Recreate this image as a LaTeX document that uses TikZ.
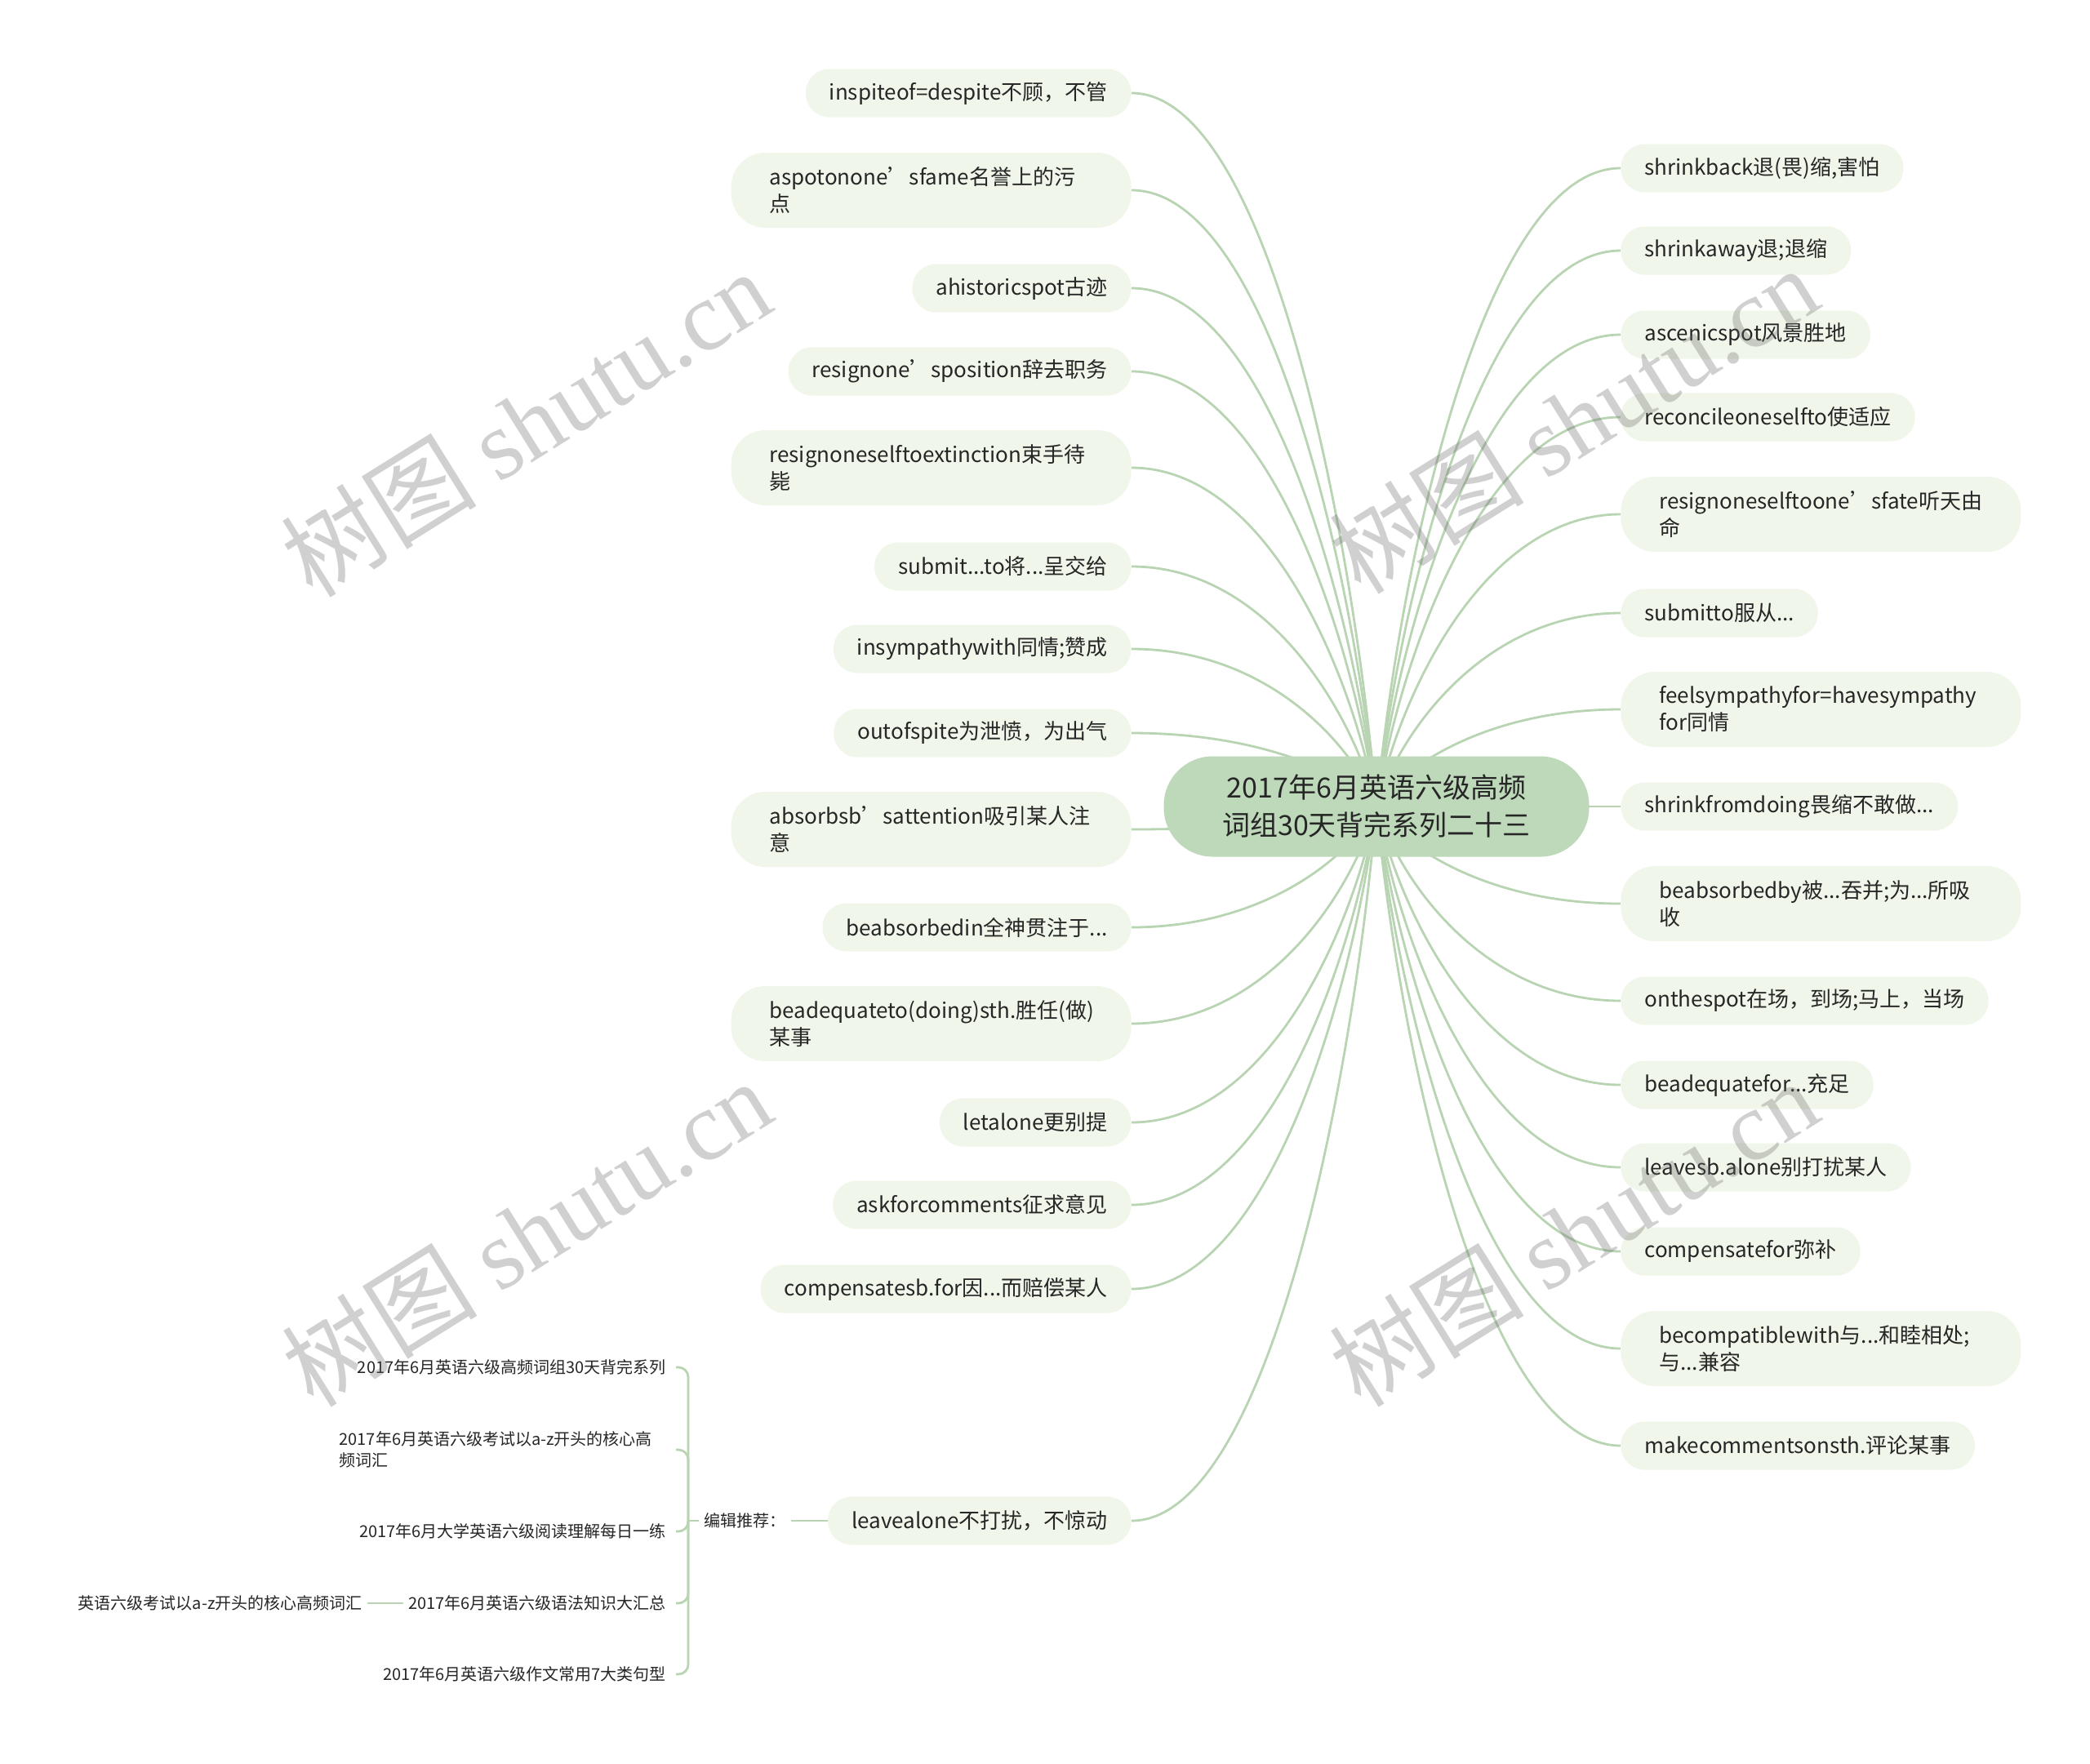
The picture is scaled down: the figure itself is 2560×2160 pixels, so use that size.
\documentclass[tikz,border=0pt]{standalone}
\usepackage{fontspec}
\setmainfont{Noto Sans CJK SC}
\newfontfamily\wmfont{Liberation Serif}
\usepackage{xcolor}
\usepackage{tikz}
\usetikzlibrary{calc}
\definecolor{leafbg}{RGB}{240,246,233}
\definecolor{rootbg}{RGB}{190,216,186}
\definecolor{twiggreen}{RGB}{184,212,178}
\definecolor{inkdark}{RGB}{38,38,38}
\pgfdeclarelayer{canvas}
\pgfdeclarelayer{bg}
\pgfsetlayers{canvas,bg,main}

\begin{document}
\begin{tikzpicture}[x=0.5pt, y=-0.5pt,
 root/.style={fill=rootbg, rounded corners=30pt, minimum width=260.5pt,
          minimum height=61.5pt, align=center, text=inkdark,
          font=\fontsize{17}{23}\selectfont},
 leaf/.style={fill=leafbg, rounded corners=14.5pt, minimum height=29.5pt,
          inner xsep=14.5pt, inner ysep=3pt, text=inkdark,
          font=\fontsize{13}{16.5}\selectfont},
 leafwide/.style={leaf, rounded corners=21pt, minimum height=46pt,
          text width=198pt, inner xsep=23.5pt, align=left},
 recnote/.style={font=\fontsize{10}{13}\selectfont, text=inkdark,
          inner xsep=3pt, anchor=east},
 twig/.style={draw=twiggreen, line width=1.4pt},
 wmark/.style={text=black!60, text opacity=0.3, rotate=32,
          font=\fontsize{60}{60}\selectfont}
]
\useasboundingbox (0,0) rectangle (2560,2160);
\begin{pgfonlayer}{canvas}
\fill[white] (0,0) rectangle (2560,2160);
\end{pgfonlayer}
% Central topic
\node[root] (root) at (1686,988) {2017年6月英语六级高频\\词组30天背完系列二十三};
% Phrases on the left
\node[leaf, anchor=east] (inspite) at (1386,114) {inspiteof=despite不顾，不管};
\node[leafwide, anchor=east] (spotfame) at (1386,233) {aspotonone’sfame名誉上的污\\点};
\node[leaf, anchor=east] (historic) at (1386,353) {ahistoricspot古迹};
\node[leaf, anchor=east] (resignpos) at (1386,455) {resignone’sposition辞去职务};
\node[leafwide, anchor=east] (extinct) at (1386,573) {resignoneselftoextinction束手待\\毙};
\node[leaf, anchor=east] (submitgive) at (1386,694) {submit...to将...呈交给};
\node[leaf, anchor=east] (sympwith) at (1386,795) {insympathywith同情;赞成};
\node[leaf, anchor=east] (spite) at (1386,898) {outofspite为泄愤，为出气};
\node[leafwide, anchor=east] (absorbatt) at (1386,1016) {absorbsb’sattention吸引某人注\\意};
\node[leaf, anchor=east] (absorbin) at (1386,1136) {beabsorbedin全神贯注于...};
\node[leafwide, anchor=east] (adequateto) at (1386,1254) {beadequateto(doing)sth.胜任(做)\\某事};
\node[leaf, anchor=east] (letalone) at (1386,1375) {letalone更别提};
\node[leaf, anchor=east] (askcomm) at (1386,1476) {askforcomments征求意见};
\node[leaf, anchor=east] (compsb) at (1386,1579) {compensatesb.for因...而赔偿某人};
\node[leaf, anchor=east] (leavealone) at (1386,1863) {leavealone不打扰，不惊动};
% Phrases on the right
\node[leaf, anchor=west] (shrinkback) at (1985,206) {shrinkback退(畏)缩,害怕};
\node[leaf, anchor=west] (shrinkaway) at (1985,307) {shrinkaway退;退缩};
\node[leaf, anchor=west] (scenic) at (1985,410) {ascenicspot风景胜地};
\node[leaf, anchor=west] (reconcile) at (1985,511) {reconcileoneselfto使适应};
\node[leafwide, anchor=west] (fate) at (1985,630) {resignoneselftoone’sfate听天由\\命};
\node[leaf, anchor=west] (submitto) at (1985,751) {submitto服从...};
\node[leafwide, anchor=west] (sympfor) at (1985,869) {feelsympathyfor=havesympathy\\for同情};
\node[leaf, anchor=west] (shrinkfrom) at (1985,988) {shrinkfromdoing畏缩不敢做...};
\node[leafwide, anchor=west] (absorbby) at (1985,1107) {beabsorbedby被...吞并;为...所吸\\收};
\node[leaf, anchor=west] (onspot) at (1985,1226) {onthespot在场，到场;马上，当场};
\node[leaf, anchor=west] (adequatefor) at (1985,1329) {beadequatefor...充足};
\node[leaf, anchor=west] (leavesb) at (1985,1430) {leavesb.alone别打扰某人};
\node[leaf, anchor=west] (compfor) at (1985,1533) {compensatefor弥补};
\node[leafwide, anchor=west] (compatible) at (1985,1652) {becompatiblewith与...和睦相处;\\与...兼容};
\node[leaf, anchor=west] (commenton) at (1985,1771) {makecommentsonsth.评论某事};
% Editor's picks hanging off the last phrase
\node[recnote] (recom) at (969,1863) {编辑推荐：};
\coordinate (fork) at (843,1863);
\node[recnote] (series) at (822,1675) {2017年6月英语六级高频词组30天背完系列};
\node[recnote, text width=200pt, align=left] (corevocab) at (822,1776) {2017年6月英语六级考试以a-z开头的核心高\\频词汇};
\node[recnote] (reading) at (822,1876) {2017年6月大学英语六级阅读理解每日一练};
\node[recnote] (grammar) at (822,1964) {2017年6月英语六级语法知识大汇总};
\node[recnote] (writing) at (822,2051) {2017年6月英语六级作文常用7大类句型};
\node[recnote] (azvocab) at (450,1964) {英语六级考试以a-z开头的核心高频词汇};
\begin{pgfonlayer}{bg}
\foreach \lf/\sd in {inspite/east,spotfame/east,historic/east,resignpos/east,extinct/east,
    submitgive/east,sympwith/east,spite/east,absorbatt/east,absorbin/east,adequateto/east,
    letalone/east,askcomm/east,compsb/east,leavealone/east,
    shrinkback/west,shrinkaway/west,scenic/west,reconcile/west,fate/west,submitto/west,
    sympfor/west,shrinkfrom/west,absorbby/west,onspot/west,adequatefor/west,leavesb/west,
    compfor/west,compatible/west,commenton/west}
  \draw[twig] let \p1=(root.center), \p2=(\lf.\sd) in (\p1)
    .. controls ({\x1+0.1*(\x2-\x1)},{\y1+0.4*(\y2-\y1)})
    and ({\x1+0.45*(\x2-\x1)},\y2) .. (\p2);
\end{pgfonlayer}
\draw[twig] (leavealone.west) -- (recom.east);
\draw[twig] (recom.west) -- (fork);
\foreach \lf in {series,corevocab,reading,grammar,writing}
  \draw[twig, rounded corners=6pt] (fork) |- ([xshift=3pt]\lf.east);
\draw[twig] (grammar.west) -- (azvocab.east);
% Watermarks
\node[wmark] (wm1) at (644,518) {树图 {\wmfont shutu.cn}};
\node[wmark] (wm2) at (1927,514) {树图 {\wmfont shutu.cn}};
\node[wmark] (wm3) at (645,1510) {树图 {\wmfont shutu.cn}};
\node[wmark] (wm4) at (1927,1510) {树图 {\wmfont shutu.cn}};
\end{tikzpicture}
\end{document}
